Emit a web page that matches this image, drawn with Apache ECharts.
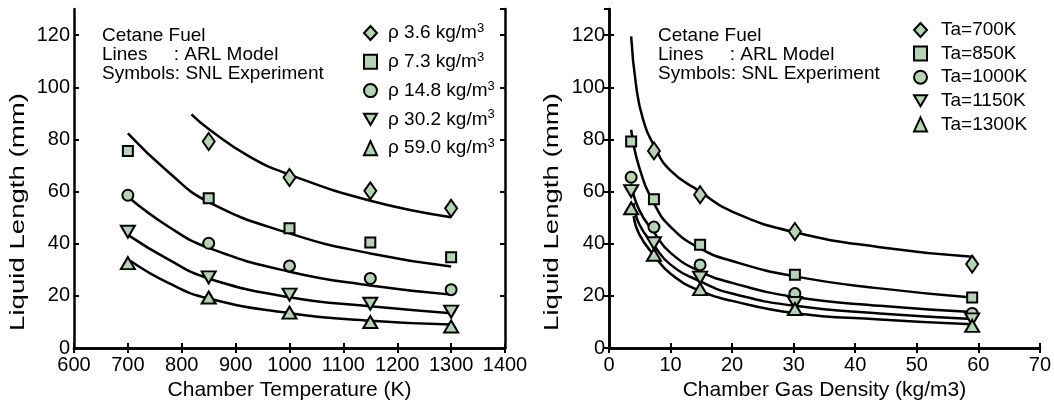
<!DOCTYPE html>
<html>
<head>
<meta charset="utf-8">
<script src="https://cdn.jsdelivr.net/npm/echarts@6/dist/echarts.min.js"></script>
<style>
  html, body { margin: 0; padding: 0; background: #fff; }
  #chart { width: 1054px; height: 406px; }
</style>
</head>
<body>
<div id="chart"></div>
<script>
// ---- left panel: liquid length vs chamber temperature ----
const densityNames = ['ρ 3.6 kg/m3', 'ρ 7.3 kg/m3', 'ρ 14.8 kg/m3', 'ρ 30.2 kg/m3', 'ρ 59.0 kg/m3'];
const expTemps = [700, 850, 1000, 1150, 1300];
const expRho36 = [null, 79.2, 65.4, 60.3, 53.6];
const expRho73 = [75.6, 57.4, 45.9, 40.5, 34.8];
const expRho148 = [58.6, 40.2, 31.5, 26.7, 22.4];
const expRho302 = [44.6, 27.1, 20.5, 17.0, 14.0];
const expRho590 = [32.6, 19.4, 13.6, 10.0, 8.3];

const modelTempRho36 = [818, 850, 925, 1000, 1150, 1300];
const modelRho36 = [89.6, 84.0, 73.5, 66.5, 56.5, 50.2];
const modelTemps = [700, 775, 850, 1000, 1150, 1300];
const modelRho73 = [82.3, 67.5, 56.0, 44.0, 36.3, 31.3];
const modelRho148 = [58.0, 46.6, 38.4, 29.3, 24.0, 20.5];
const modelRho302 = [43.4, 34.0, 26.7, 19.5, 16.0, 13.4];
const modelTempRho590 = [705, 775, 850, 1000, 1150, 1300];
const modelRho590 = [33.4, 25.0, 19.0, 13.4, 10.5, 9.0];

// ---- right panel: liquid length vs chamber gas density ----
const tempNames = ['Ta=700K', 'Ta=850K', 'Ta=1000K', 'Ta=1150K', 'Ta=1300K'];
const expDens = [3.6, 7.3, 14.8, 30.2, 59.0];
const exp700 = [null, 75.6, 58.8, 44.7, 32.2];
const exp850 = [79.2, 57.1, 39.6, 28.1, 19.4];
const exp1000 = [65.5, 46.4, 31.9, 20.9, 13.3];
const exp1150 = [60.2, 40.2, 27.0, 17.3, 11.0];
const exp1300 = [53.6, 35.8, 22.6, 15.0, 8.5];

const modelDens700 = [3.6, 4.4, 5.5, 7.3, 10, 14.8, 20, 30.2, 44, 59];
const model700 = [119.5, 100.6, 88.0, 77.7, 68.0, 60.0, 52.3, 44.4, 38.7, 35.0];
const modelDens850 = [3.6, 4.9, 7.3, 10, 14.8, 20, 30.2, 44, 59];
const model850 = [83.7, 69.4, 55.6, 46.5, 38.2, 33.4, 27.5, 22.9, 19.4];
const model1000 = [63.0, 53.0, 44.4, 36.5, 29.4, 25.0, 19.6, 16.2, 13.8];
const modelDensHot = [4, 4.9, 7.3, 10, 14.8, 20, 30.2, 44, 59];
const model1150 = [55.6, 47.6, 39.4, 32.0, 25.6, 20.9, 16.2, 13.3, 11.2];
const model1300 = [50.6, 43.7, 35.6, 28.5, 21.9, 18.1, 13.4, 11.0, 9.1];

const lenTicks = { min: 0, max: 130, interval: 20 };

const FONT = 'Liberation Sans, Arial, sans-serif';
const markerFill = '#b6d3b6';
const DOWN_TRI = 'path://M0,0L14,0L7,12Z';
const symbols = [
  { symbol: 'diamond', size: [12, 17] },
  { symbol: 'rect', size: 10 },
  { symbol: 'circle', size: 11 },
  { symbol: DOWN_TRI, size: [14, 12] },
  { symbol: 'triangle', size: [14, 12] }
];

function pairs(xs, ys) {
  return xs.map((x, i) => [x, ys[i]]).filter(p => p[1] != null);
}

function modelLine(xs, ys, xi, yi) {
  return {
    type: 'line', xAxisIndex: xi, yAxisIndex: yi,
    data: pairs(xs, ys), showSymbol: false, smooth: 0.5,
    lineStyle: { color: '#000', width: 2.5 }, silent: true, z: 2
  };
}

function expPoints(name, xs, ys, k, xi, yi) {
  return {
    type: 'scatter', name: name, xAxisIndex: xi, yAxisIndex: yi,
    data: pairs(xs, ys),
    symbol: symbols[k].symbol, symbolSize: symbols[k].size,
    itemStyle: { color: markerFill, borderColor: '#000', borderWidth: 2, opacity: 1 },
    z: 5
  };
}

function legendItems(names) {
  return names.map((n, k) => ({ name: n, icon: symbols[k].symbol }));
}

const axisLine = { lineStyle: { color: '#000', width: 2.5 } };
const tickIn = { inside: true, length: 5, lineStyle: { color: '#000', width: 2 } };
const labelStyle = { color: '#000', fontSize: 20, fontFamily: FONT, formatter: v => String(v) };

function xAxes(grid, min, max, interval, name, gap) {
  return [
    { type: 'value', gridIndex: grid, min, max, interval, position: 'bottom',
      axisLine, axisTick: tickIn, splitLine: { show: false },
      axisLabel: Object.assign({ margin: 7 }, labelStyle),
      name, nameLocation: 'middle', nameGap: gap,
      nameTextStyle: { color: '#000', fontSize: 21, fontFamily: FONT } },
    { type: 'value', gridIndex: grid, min, max, interval, position: 'top',
      axisLine, axisTick: tickIn, splitLine: { show: false }, axisLabel: { show: false } }
  ];
}

function yAxes(grid) {
  return [
    { type: 'value', gridIndex: grid, min: lenTicks.min, max: lenTicks.max, interval: lenTicks.interval,
      position: 'left', axisLine, axisTick: tickIn, splitLine: { show: false },
      axisLabel: Object.assign({ margin: 4, showMaxLabel: false }, labelStyle) },
    { type: 'value', gridIndex: grid, min: lenTicks.min, max: lenTicks.max, interval: lenTicks.interval,
      position: 'right', axisLine, axisTick: tickIn, splitLine: { show: false }, axisLabel: { show: false } }
  ];
}

const chart = echarts.init(document.getElementById('chart'), null, { renderer: 'canvas' });

const annot = 'Cetane Fuel\nLines     : ARL Model\nSymbols: SNL Experiment';

const option = {
  animation: false,
  backgroundColor: '#fff',
  grid: [
    { left: 74, right: 549, top: 9, bottom: 51 },
    { left: 609, right: 14, top: 9, bottom: 51 }
  ],
  xAxis: xAxes(0, 600, 1400, 100, 'Chamber Temperature (K)', 29)
    .concat(xAxes(1, 0, 70, 10, 'Chamber Gas Density (kg/m3)', 26)),
  yAxis: yAxes(0).concat(yAxes(1)),
  legend: [
    { orient: 'vertical', left: 363, top: 22, padding: 0, itemWidth: 13, itemHeight: 14, itemGap: 8.3,
      data: legendItems(densityNames), selectedMode: false,
      formatter: n => '{t|' + n.slice(0, -1) + '}{s|3}',
      textStyle: { color: '#000', fontFamily: FONT, padding: [0, 0, 0, 6],
        rich: { t: { fontSize: 19, lineHeight: 22, fontFamily: FONT, color: '#000' },
                s: { fontSize: 13, lineHeight: 12, verticalAlign: 'top', fontFamily: FONT, color: '#000' } } } },
    { orient: 'vertical', left: 913, top: 20, padding: 0, itemWidth: 13, itemHeight: 14, itemGap: 3.6,
      data: legendItems(tempNames), selectedMode: false,
      textStyle: { color: '#000', fontSize: 19, lineHeight: 20, fontFamily: FONT, padding: [0, 0, 0, 9] } }
  ],
  graphic: [
    { type: 'text', left: 102, top: 26, z: 10,
      style: { text: annot, font: '19px ' + FONT, lineHeight: 19, fill: '#000' } },
    { type: 'text', left: 658, top: 26, z: 10,
      style: { text: annot, font: '19px ' + FONT, lineHeight: 19, fill: '#000' } },
    { type: 'text', x: 18, y: 212, rotation: Math.PI / 2, scaleX: 1.38, z: 10,
      style: { text: 'Liquid Length (mm)', font: '20px ' + FONT, fill: '#000',
        align: 'center', verticalAlign: 'middle' } },
    { type: 'text', x: 552, y: 212, rotation: Math.PI / 2, scaleX: 1.38, z: 10,
      style: { text: 'Liquid Length (mm)', font: '20px ' + FONT, fill: '#000',
        align: 'center', verticalAlign: 'middle' } }
  ],
  series: [
    modelLine(modelTempRho36, modelRho36, 0, 0),
    modelLine(modelTemps, modelRho73, 0, 0),
    modelLine(modelTemps, modelRho148, 0, 0),
    modelLine(modelTemps, modelRho302, 0, 0),
    modelLine(modelTempRho590, modelRho590, 0, 0),
    expPoints(densityNames[0], expTemps, expRho36, 0, 0, 0),
    expPoints(densityNames[1], expTemps, expRho73, 1, 0, 0),
    expPoints(densityNames[2], expTemps, expRho148, 2, 0, 0),
    expPoints(densityNames[3], expTemps, expRho302, 3, 0, 0),
    expPoints(densityNames[4], expTemps, expRho590, 4, 0, 0),

    modelLine(modelDens700, model700, 2, 2),
    modelLine(modelDens850, model850, 2, 2),
    modelLine(modelDens850, model1000, 2, 2),
    modelLine(modelDensHot, model1150, 2, 2),
    modelLine(modelDensHot, model1300, 2, 2),
    expPoints(tempNames[0], expDens, exp700, 0, 2, 2),
    expPoints(tempNames[1], expDens, exp850, 1, 2, 2),
    expPoints(tempNames[2], expDens, exp1000, 2, 2, 2),
    expPoints(tempNames[3], expDens, exp1150, 3, 2, 2),
    expPoints(tempNames[4], expDens, exp1300, 4, 2, 2)
  ]
};

chart.setOption(option);
window.addEventListener('resize', () => chart.resize());
</script>
</body>
</html>
